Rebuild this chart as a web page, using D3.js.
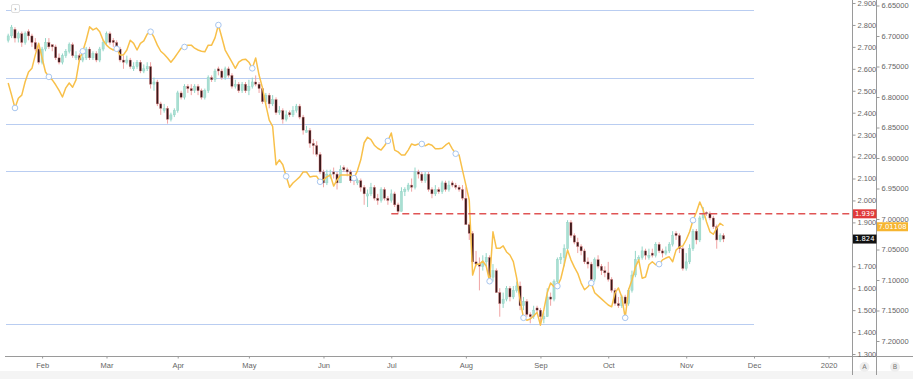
<!DOCTYPE html>
<html>
<head>
<meta charset="utf-8">
<script src="https://cdn.jsdelivr.net/npm/d3@7"></script>
<style>
  body { margin: 0; background: #fff; }
  svg { display: block; font-family: "DejaVu Sans", sans-serif; }
</style>
</head>
<body>
<div id="chart"></div>
<script>
// trading days: weekdays from start to end, minus US market holidays
const startDate = "2019-01-17";
const endDate = "2020-01-01";
const holidays = ["2019-01-21", "2019-02-18", "2019-04-19", "2019-05-27", "2019-07-04", "2019-09-02", "2019-11-28"];

// US 10Y yield, daily candles (scale A)
const opens = [
  2.73, 2.75, 2.78, 2.74, 2.76, 2.72, 2.77, 2.75, 2.72, 2.69,
  2.63, 2.69, 2.72, 2.71, 2.70, 2.65, 2.63, 2.66, 2.68, 2.71,
  2.65, 2.66, 2.64, 2.65, 2.69, 2.65, 2.67, 2.64, 2.69, 2.72,
  2.76, 2.73, 2.72, 2.69, 2.64, 2.63, 2.64, 2.60, 2.61, 2.63,
  2.59, 2.60, 2.61, 2.53, 2.54, 2.44, 2.41, 2.42, 2.37, 2.39,
  2.41, 2.49, 2.47, 2.52, 2.51, 2.50, 2.52, 2.50, 2.47, 2.50,
  2.56, 2.55, 2.60, 2.59, 2.56, 2.60, 2.57, 2.52, 2.53, 2.50,
  2.53, 2.50, 2.52, 2.54, 2.53, 2.51, 2.45, 2.48, 2.44, 2.46,
  2.40, 2.41, 2.37, 2.40, 2.39, 2.41, 2.43, 2.38, 2.31, 2.32,
  2.26, 2.25, 2.21, 2.13, 2.08, 2.11, 2.13, 2.12, 2.08, 2.15,
  2.14, 2.13, 2.10, 2.08, 2.09, 2.06, 2.02, 2.03, 2.06, 2.01,
  2.00, 2.05, 2.01, 2.00, 2.03, 1.98, 1.95, 2.04, 2.05, 2.07,
  2.06, 2.13, 2.12, 2.09, 2.12, 2.05, 2.03, 2.05, 2.04, 2.08,
  2.05, 2.08, 2.07, 2.06, 2.05, 2.01, 1.89, 1.85, 1.72, 1.71,
  1.70, 1.72, 1.74, 1.65, 1.68, 1.58, 1.53, 1.55, 1.60, 1.56,
  1.59, 1.61, 1.52, 1.54, 1.48, 1.47, 1.51, 1.50, 1.46, 1.47,
  1.56, 1.55, 1.63, 1.73, 1.74, 1.78, 1.90, 1.84, 1.81, 1.79,
  1.77, 1.72, 1.71, 1.64, 1.73, 1.70, 1.68, 1.67, 1.64, 1.59,
  1.53, 1.52, 1.56, 1.53, 1.59, 1.66, 1.73, 1.74, 1.77, 1.74,
  1.76, 1.75, 1.80, 1.77, 1.76, 1.77, 1.80, 1.85, 1.84, 1.78,
  1.69, 1.72, 1.78, 1.86, 1.82, 1.92, 1.945, 1.94, 1.92, 1.88,
  1.82, 1.84
];
const highs = [
  2.76, 2.80, 2.79, 2.77, 2.77, 2.77, 2.78, 2.76, 2.74, 2.70,
  2.70, 2.74, 2.74, 2.71, 2.71, 2.67, 2.67, 2.69, 2.72, 2.72,
  2.68, 2.67, 2.67, 2.70, 2.70, 2.68, 2.68, 2.70, 2.73, 2.77,
  2.77, 2.74, 2.73, 2.70, 2.66, 2.66, 2.65, 2.63, 2.64, 2.64,
  2.62, 2.63, 2.63, 2.56, 2.55, 2.45, 2.44, 2.43, 2.40, 2.42,
  2.50, 2.50, 2.53, 2.53, 2.53, 2.53, 2.53, 2.51, 2.51, 2.57,
  2.57, 2.60, 2.61, 2.60, 2.61, 2.61, 2.58, 2.55, 2.54, 2.54,
  2.54, 2.55, 2.56, 2.57, 2.54, 2.52, 2.49, 2.49, 2.48, 2.47,
  2.43, 2.42, 2.41, 2.41, 2.43, 2.44, 2.44, 2.39, 2.34, 2.33,
  2.28, 2.27, 2.22, 2.14, 2.14, 2.14, 2.15, 2.13, 2.16, 2.16,
  2.15, 2.14, 2.11, 2.10, 2.10, 2.07, 2.05, 2.08, 2.07, 2.03,
  2.06, 2.06, 2.02, 2.05, 2.04, 1.99, 2.06, 2.06, 2.08, 2.10,
  2.15, 2.14, 2.13, 2.13, 2.13, 2.06, 2.07, 2.06, 2.09, 2.09,
  2.09, 2.09, 2.08, 2.07, 2.07, 2.06, 1.90, 1.86, 1.77, 1.74,
  1.75, 1.76, 1.75, 1.71, 1.69, 1.60, 1.58, 1.61, 1.61, 1.61,
  1.63, 1.63, 1.56, 1.55, 1.49, 1.52, 1.52, 1.51, 1.49, 1.60,
  1.58, 1.64, 1.74, 1.76, 1.80, 1.91, 1.91, 1.85, 1.83, 1.80,
  1.78, 1.74, 1.72, 1.74, 1.75, 1.71, 1.70, 1.72, 1.65, 1.60,
  1.56, 1.57, 1.57, 1.60, 1.68, 1.77, 1.75, 1.79, 1.78, 1.78,
  1.78, 1.81, 1.81, 1.78, 1.79, 1.81, 1.86, 1.86, 1.85, 1.79,
  1.76, 1.80, 1.87, 1.87, 1.93, 1.97, 1.95, 1.95, 1.93, 1.89,
  1.85, 1.85
];
const lows = [
  2.72, 2.74, 2.72, 2.72, 2.70, 2.71, 2.73, 2.70, 2.68, 2.62,
  2.62, 2.68, 2.69, 2.68, 2.64, 2.62, 2.62, 2.65, 2.67, 2.65,
  2.64, 2.63, 2.63, 2.64, 2.64, 2.64, 2.63, 2.63, 2.68, 2.71,
  2.71, 2.70, 2.68, 2.63, 2.60, 2.62, 2.60, 2.59, 2.60, 2.58,
  2.58, 2.59, 2.51, 2.50, 2.43, 2.39, 2.40, 2.35, 2.36, 2.38,
  2.40, 2.46, 2.46, 2.49, 2.48, 2.49, 2.48, 2.46, 2.46, 2.49,
  2.54, 2.54, 2.57, 2.55, 2.55, 2.56, 2.51, 2.51, 2.49, 2.49,
  2.49, 2.48, 2.51, 2.52, 2.49, 2.44, 2.44, 2.42, 2.43, 2.39,
  2.39, 2.35, 2.36, 2.38, 2.38, 2.40, 2.37, 2.30, 2.31, 2.24,
  2.21, 2.20, 2.12, 2.06, 2.07, 2.10, 2.10, 2.05, 2.08, 2.13,
  2.11, 2.08, 2.07, 2.07, 2.04, 1.98, 1.97, 2.02, 2.00, 1.98,
  1.99, 2.00, 1.98, 1.99, 1.97, 1.94, 1.95, 2.02, 2.04, 2.04,
  2.05, 2.10, 2.08, 2.08, 2.04, 2.01, 2.02, 2.03, 2.03, 2.04,
  2.04, 2.06, 2.05, 2.04, 2.00, 1.89, 1.82, 1.71, 1.70, 1.59,
  1.68, 1.70, 1.64, 1.63, 1.58, 1.47, 1.51, 1.54, 1.54, 1.55,
  1.58, 1.50, 1.50, 1.47, 1.44, 1.46, 1.49, 1.43, 1.44, 1.47,
  1.52, 1.54, 1.62, 1.71, 1.70, 1.77, 1.83, 1.80, 1.76, 1.75,
  1.71, 1.69, 1.62, 1.63, 1.69, 1.66, 1.65, 1.63, 1.58, 1.52,
  1.51, 1.51, 1.52, 1.52, 1.58, 1.65, 1.72, 1.73, 1.73, 1.73,
  1.74, 1.74, 1.76, 1.74, 1.75, 1.76, 1.79, 1.82, 1.76, 1.68,
  1.68, 1.71, 1.77, 1.80, 1.81, 1.91, 1.93, 1.91, 1.87, 1.78,
  1.81, 1.81
];
const closes = [
  2.75, 2.79, 2.74, 2.76, 2.72, 2.76, 2.75, 2.72, 2.69, 2.63,
  2.69, 2.72, 2.70, 2.70, 2.65, 2.63, 2.66, 2.68, 2.71, 2.66,
  2.66, 2.64, 2.65, 2.69, 2.65, 2.67, 2.64, 2.69, 2.72, 2.76,
  2.72, 2.72, 2.69, 2.64, 2.63, 2.64, 2.61, 2.61, 2.63, 2.59,
  2.60, 2.61, 2.53, 2.54, 2.44, 2.42, 2.42, 2.37, 2.39, 2.41,
  2.49, 2.47, 2.52, 2.51, 2.50, 2.52, 2.50, 2.47, 2.50, 2.56,
  2.55, 2.59, 2.59, 2.56, 2.60, 2.57, 2.52, 2.53, 2.50, 2.53,
  2.50, 2.52, 2.54, 2.53, 2.51, 2.45, 2.48, 2.44, 2.46, 2.40,
  2.41, 2.37, 2.39, 2.39, 2.41, 2.43, 2.38, 2.32, 2.32, 2.26,
  2.25, 2.21, 2.13, 2.08, 2.12, 2.12, 2.12, 2.08, 2.14, 2.14,
  2.13, 2.09, 2.09, 2.09, 2.06, 2.03, 2.03, 2.06, 2.01, 2.00,
  2.05, 2.01, 2.00, 2.03, 1.98, 1.95, 2.04, 2.05, 2.07, 2.06,
  2.13, 2.12, 2.09, 2.12, 2.05, 2.03, 2.05, 2.04, 2.08, 2.05,
  2.07, 2.07, 2.06, 2.05, 2.01, 1.89, 1.85, 1.72, 1.71, 1.70,
  1.72, 1.74, 1.65, 1.68, 1.58, 1.53, 1.55, 1.60, 1.56, 1.59,
  1.61, 1.52, 1.54, 1.48, 1.47, 1.50, 1.50, 1.47, 1.47, 1.56,
  1.55, 1.63, 1.73, 1.74, 1.78, 1.90, 1.84, 1.81, 1.79, 1.77,
  1.72, 1.71, 1.64, 1.73, 1.70, 1.68, 1.67, 1.64, 1.59, 1.53,
  1.52, 1.56, 1.53, 1.59, 1.66, 1.73, 1.74, 1.77, 1.75, 1.75,
  1.75, 1.80, 1.77, 1.76, 1.77, 1.80, 1.84, 1.84, 1.78, 1.69,
  1.72, 1.78, 1.86, 1.82, 1.92, 1.94, 1.94, 1.92, 1.88, 1.82,
  1.84, 1.824
];

// USD/CNH close, inverted scale B
const cnh = [
  6.777, 6.797, 6.818, 6.802, 6.797, 6.775, 6.759, 6.753, 6.731, 6.712,
  6.736, 6.759, 6.767, 6.772, 6.780, 6.789, 6.800, 6.785, 6.777, 6.784,
  6.772, 6.739, 6.725, 6.707, 6.685, 6.690, 6.687, 6.693, 6.707, 6.715,
  6.720, 6.723, 6.721, 6.731, 6.731, 6.723, 6.707, 6.712, 6.723, 6.712,
  6.708, 6.697, 6.693, 6.702, 6.715, 6.725, 6.730, 6.736, 6.743, 6.736,
  6.728, 6.720, 6.718, 6.715, 6.715, 6.720, 6.723, 6.725, 6.726, 6.715,
  6.715, 6.703, 6.682, 6.702, 6.723, 6.733, 6.743, 6.753, 6.743, 6.739,
  6.738, 6.743, 6.753, 6.736, 6.764, 6.785, 6.813, 6.838, 6.848, 6.911,
  6.903, 6.911, 6.930, 6.948, 6.941, 6.936, 6.931, 6.923, 6.923, 6.931,
  6.930, 6.930, 6.939, 6.936, 6.931, 6.928, 6.946, 6.936, 6.928, 6.928,
  6.928, 6.928, 6.933, 6.921, 6.903, 6.875, 6.866, 6.870, 6.879, 6.884,
  6.887, 6.880, 6.872, 6.859, 6.887, 6.890, 6.895, 6.895, 6.887, 6.877,
  6.879, 6.877, 6.877, 6.880, 6.877, 6.879, 6.885, 6.885, 6.884, 6.879,
  6.875, 6.885, 6.893, 6.895, 6.920, 6.944, 6.969, 7.092, 7.074, 7.074,
  7.069, 7.077, 7.102, 7.021, 7.048, 7.048, 7.044, 7.054, 7.059, 7.070,
  7.097, 7.133, 7.162, 7.166, 7.164, 7.159, 7.153, 7.174, 7.149, 7.121,
  7.105, 7.111, 7.110, 7.098, 7.075, 7.051, 7.067, 7.079, 7.089, 7.105,
  7.116, 7.111, 7.105, 7.121, 7.126, 7.131, 7.136, 7.141, 7.144, 7.121,
  7.113, 7.128, 7.162, 7.116, 7.100, 7.079, 7.067, 7.097, 7.095, 7.075,
  7.070, 7.075, 7.074, 7.067, 7.064, 7.062, 7.070, 7.051, 7.046, 7.044,
  7.034, 7.021, 7.002, 6.989, 6.972, 6.985, 7.005, 7.021, 7.025, 7.015,
  7.007, 7.01108
];

const levels = [2.866, 2.559, 2.349, 2.132, 1.439];   // horizontal blue lines
const levelsEnd = "2019-12-02";
const resistance = 1.939;
const resistanceFrom = "2019-07-01";
const ticksA = [1.3, 1.4, 1.5, 1.6, 1.7, 1.8, 1.9, 2.0, 2.1, 2.2, 2.3, 2.4, 2.5, 2.6, 2.7, 2.8, 2.9];
const ticksB = [6.65, 6.70, 6.75, 6.80, 6.85, 6.90, 6.95, 7.00, 7.05, 7.10, 7.15, 7.20];

const W = 913, H = 379;
const plot = { left: 5, right: 852, top: 0, bottom: 356 };
const axisBX = 876;

const parse = d3.utcParse("%Y-%m-%d"), key = d3.utcFormat("%Y-%m-%d");
const days = d3.utcDay.range(parse(startDate), d3.utcDay.offset(parse(endDate), 1))
  .filter(d => d.getUTCDay() % 6 !== 0 && !holidays.includes(key(d)));
const idxOf = s => days.findIndex(d => key(d) === s);

const x = d3.scaleLinear().domain([0, days.length - 1]).range([8.2, 828.6]);
const yA = d3.scaleLinear().domain([1.3, 2.9]).range([354, 3]);
const yB = d3.scaleLinear().domain([6.65, 7.2]).range([5.5, 341]);

const svg = d3.select('#chart').append('svg').attr('width', W).attr('height', H);
svg.append('rect').attr('width', W).attr('height', H).attr('fill', '#fff');

svg.append('clipPath').attr('id', 'clip').append('rect')
  .attr('x', plot.left).attr('y', plot.top)
  .attr('width', plot.right - plot.left).attr('height', plot.bottom - plot.top);
const g = svg.append('g').attr('clip-path', 'url(#clip)');

// blue horizontal levels
g.selectAll('line.lvl').data(levels).enter().append('line').attr('class', 'lvl')
  .attr('x1', plot.left + 1).attr('x2', x(idxOf(levelsEnd)))
  .attr('y1', d => Math.round(yA(d)) + 0.5).attr('y2', d => Math.round(yA(d)) + 0.5)
  .attr('stroke', '#b9cdf1').attr('stroke-width', 1);

// candles
const bars = closes.map((c, i) => ({ i, o: opens[i], h: highs[i], l: lows[i], c }));
const cg = g.selectAll('g.c').data(bars).enter().append('g').attr('class', 'c');
cg.append('line')
  .attr('x1', d => x(d.i)).attr('x2', d => x(d.i))
  .attr('y1', d => yA(d.h)).attr('y2', d => yA(d.l))
  .attr('stroke', d => d.c >= d.o ? '#92d6c8' : '#f0a3a3').attr('stroke-width', 1);
cg.append('rect')
  .attr('x', d => x(d.i) - 1.1).attr('width', 2.2)
  .attr('y', d => yA(Math.max(d.o, d.c)))
  .attr('height', d => Math.max(1, Math.abs(yA(d.o) - yA(d.c))))
  .attr('fill', d => d.c >= d.o ? '#a9dfd2' : '#3a1719')
  .attr('stroke', d => d.c >= d.o ? '#8fd2c3' : '#d98080').attr('stroke-width', 0.4);

// orange USD/CNH line
const line = d3.line().x((d, i) => x(i)).y(d => yB(d)).curve(d3.curveLinear);
g.append('path').datum(cnh).attr('d', line)
  .attr('fill', 'none').attr('stroke', '#f8c04a').attr('stroke-width', 1.5)
  .attr('stroke-linejoin', 'round');
g.selectAll('circle.m').data(cnh.map((v, i) => ({ v, i })).filter(d => d.i % 10 === 2))
  .enter().append('circle').attr('class', 'm')
  .attr('cx', d => x(d.i)).attr('cy', d => yB(d.v)).attr('r', 2.8)
  .attr('fill', '#fff').attr('stroke', '#a8c6ef').attr('stroke-width', 1);

// red dashed resistance
svg.append('line')
  .attr('x1', x(idxOf(resistanceFrom))).attr('x2', plot.right)
  .attr('y1', yA(resistance)).attr('y2', yA(resistance))
  .attr('stroke', '#e05454').attr('stroke-width', 1.6).attr('stroke-dasharray', '7,4');

// x axis
svg.append('line').attr('x1', plot.left).attr('x2', W).attr('y1', 356.5).attr('y2', 356.5)
  .attr('stroke', '#9a9a9a');
const monthStarts = days.map((d, i) => i).filter(i => i > 0 && days[i].getUTCMonth() !== days[i - 1].getUTCMonth());
const xAxis = d3.axisBottom(x).tickValues(monthStarts).tickSize(2).tickPadding(4)
  .tickFormat(i => days[i].getUTCMonth() === 0 ? d3.utcFormat('%Y')(days[i]) : d3.utcFormat('%b')(days[i]));
const xg = svg.append('g').attr('transform', 'translate(0,356.5)').call(xAxis);
xg.select('.domain').remove();
xg.selectAll('line').attr('stroke', '#9a9a9a');
xg.selectAll('text').attr('fill', '#666').attr('font-size', 7.5);

// bottom strip
svg.append('rect').attr('x', 0).attr('y', 371).attr('width', W).attr('height', 8).attr('fill', '#f4f4f4');

// right axes
[plot.right + 0.5, axisBX + 0.5].forEach(px => {
  svg.append('line').attr('x1', px).attr('x2', px).attr('y1', 0).attr('y2', 375).attr('stroke', '#9a9a9a');
});
const lastA = closes[closes.length - 1], lastB = cnh[cnh.length - 1];
const tagsA = [resistance, lastA];
// tick labels hidden where a price tag covers them
const aAxis = d3.axisRight(yA).tickValues(ticksA.filter(t => tagsA.every(v => Math.abs(yA(t) - yA(v)) > 7)))
  .tickSize(3).tickPadding(2).tickFormat(d3.format('.3f'));
const ag = svg.append('g').attr('transform', `translate(${plot.right + 0.5},0)`).call(aAxis);
const bAxis = d3.axisRight(yB).tickValues(ticksB.filter(t => Math.abs(yB(t) - yB(lastB)) > 6))
  .tickSize(3).tickPadding(2).tickFormat(d3.format('.5f'));
const bg = svg.append('g').attr('transform', `translate(${axisBX + 0.5},0)`).call(bAxis);
[ag, bg].forEach(a => {
  a.select('.domain').remove();
  a.selectAll('line').attr('stroke', '#9a9a9a');
  a.selectAll('text').attr('fill', '#666').attr('font-size', 7.5);
});

// price tags
function tag(px, w, yv, txt, fill) {
  const t = svg.append('g').attr('transform', `translate(${px},${yv})`);
  t.append('rect').attr('x', 0).attr('y', -4.5).attr('width', w).attr('height', 9).attr('fill', fill);
  t.append('text').attr('x', w / 2).attr('y', 0).attr('dy', '0.35em').attr('text-anchor', 'middle')
    .attr('fill', '#fff').attr('font-size', 6.8).text(txt);
}
tag(plot.right + 1, 23.5, yA(resistance), d3.format('.3f')(resistance), '#e03a3a');
tag(plot.right + 1, 23.5, yA(lastA), d3.format('.3f')(lastA), '#111');
tag(axisBX + 1, 31, yB(lastB) + 1, d3.format('.5f')(lastB), '#f6b531');

// scale badges
[['A', 864.5], ['B', 895]].forEach(([s, cx]) => {
  svg.append('circle').attr('cx', cx).attr('cy', 367).attr('r', 5).attr('fill', '#eee');
  svg.append('text').attr('x', cx).attr('y', 367).attr('dy', '0.35em').attr('text-anchor', 'middle')
    .attr('font-size', 6.5).attr('fill', '#777').text(s);
});

// small collapse button top-left
svg.append('rect').attr('x', 11.5).attr('y', 4.5).attr('width', 8).attr('height', 8).attr('rx', 1.5)
  .attr('fill', '#fff').attr('stroke', '#ddd');
svg.append('text').attr('x', 15.5).attr('y', 8.5).attr('dy', '0.35em').attr('text-anchor', 'middle')
  .attr('font-size', 6).attr('fill', '#333').text('›');
</script>
</body>
</html>
